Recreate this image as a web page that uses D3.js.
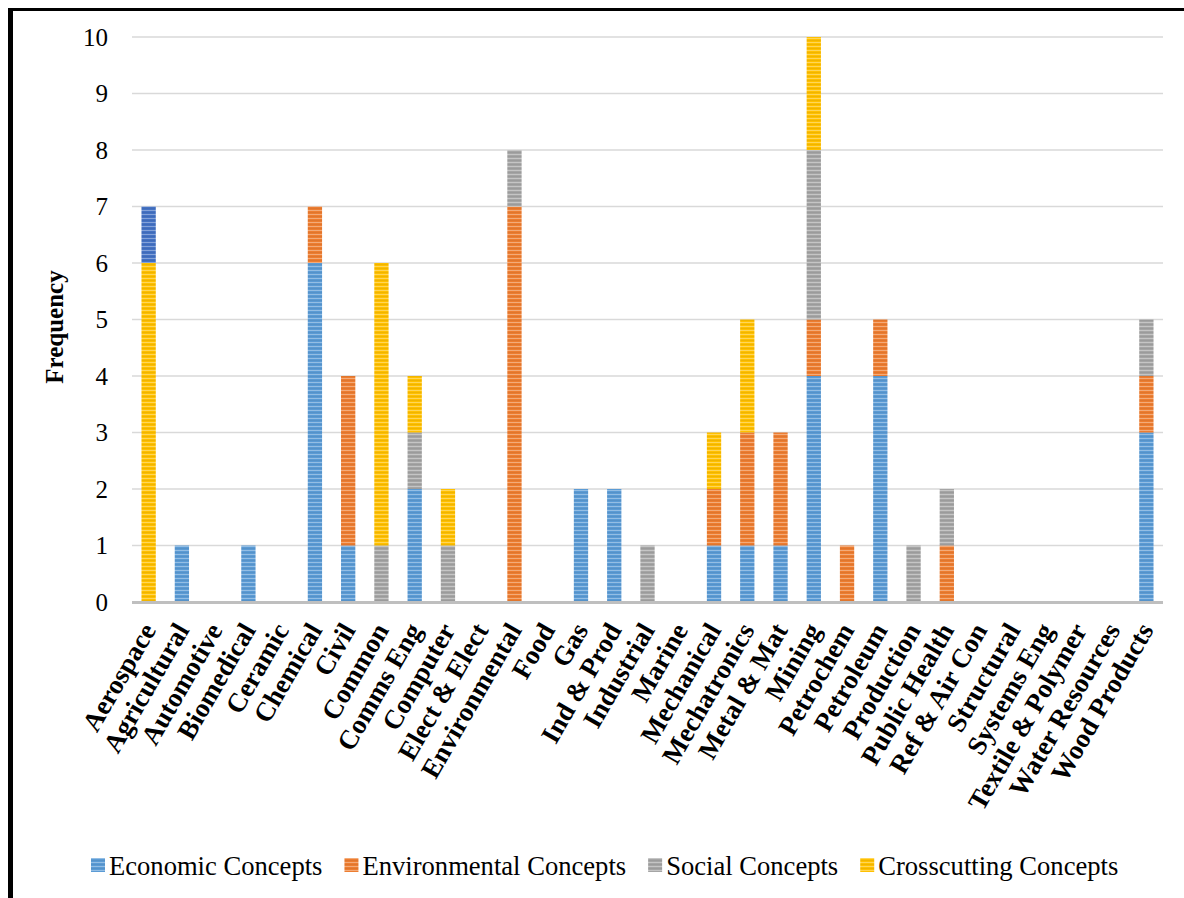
<!DOCTYPE html>
<html>
<head>
<meta charset="utf-8">
<script src="https://cdn.jsdelivr.net/npm/d3@7"></script>
<style>
  body { margin: 0; background: #fff; }
  svg { display: block; font-family: "Liberation Serif", "Times New Roman", serif; }
</style>
</head>
<body>
<div id="chart"></div>
<script>
// disciplines (axe x)
var categories = ["Aerospace", "Agricultural", "Automotive", "Biomedical", "Ceramic", "Chemical", "Civil",
  "Common", "Comms Eng", "Computer", "Elect & Elect", "Environmental", "Food", "Gas", "Ind & Prod",
  "Industrial", "Marine", "Mechanical", "Mechatronics", "Metal & Mat", "Mining", "Petrochem",
  "Petroleum", "Production", "Public Health", "Ref & Air Con", "Structural", "Systems Eng",
  "Textile & Polymer", "Water Resources", "Wood Products"];

// fréquences par série
var economic      = [0, 1, 0, 1, 0, 6, 1, 0, 2, 0, 0, 0, 0, 2, 2, 0, 0, 1, 1, 1, 4, 0, 4, 0, 0, 0, 0, 0, 0, 0, 3];
var environmental = [0, 0, 0, 0, 0, 1, 3, 0, 0, 0, 0, 7, 0, 0, 0, 0, 0, 1, 2, 2, 1, 1, 1, 0, 1, 0, 0, 0, 0, 0, 1];
var social        = [0, 0, 0, 0, 0, 0, 0, 1, 1, 1, 0, 1, 0, 0, 0, 1, 0, 0, 0, 0, 3, 0, 0, 1, 1, 0, 0, 0, 0, 0, 1];
var crosscutting  = [6, 0, 0, 0, 0, 0, 0, 5, 1, 1, 0, 0, 0, 0, 0, 0, 0, 1, 2, 0, 2, 0, 0, 0, 0, 0, 0, 0, 0, 0, 0];
// segment bleu foncé en haut de Aerospace (hors légende)
var other         = [1, 0, 0, 0, 0, 0, 0, 0, 0, 0, 0, 0, 0, 0, 0, 0, 0, 0, 0, 0, 0, 0, 0, 0, 0, 0, 0, 0, 0, 0, 0];

var seriesNames = ["Economic Concepts", "Environmental Concepts", "Social Concepts", "Crosscutting Concepts", "Other"];
var seriesColors = ["#5B9BD5", "#ED7D31", "#A5A5A5", "#FFC000", "#4472C4"];
var yTicks = [0, 1, 2, 3, 4, 5, 6, 7, 8, 9, 10];

var width = 1184, height = 898;
var plot = {left: 132, right: 1163, top: 37, bottom: 602};

var data = categories.map((c, i) => ({
  name: c,
  "Economic Concepts": economic[i],
  "Environmental Concepts": environmental[i],
  "Social Concepts": social[i],
  "Crosscutting Concepts": crosscutting[i],
  "Other": other[i]
}));

var svg = d3.select("#chart").append("svg")
  .attr("width", width)
  .attr("height", height);

// motifs rayés (comme dans Excel)
var defs = svg.append("defs");
seriesColors.forEach((col, i) => {
  var p = defs.append("pattern")
    .attr("id", "pat" + i)
    .attr("patternUnits", "userSpaceOnUse")
    .attr("width", 8).attr("height", 4);
  p.append("rect").attr("width", 8).attr("height", 4).attr("fill", col);
  p.append("rect").attr("y", 2).attr("width", 8).attr("height", 1)
    .attr("fill", d3.interpolateRgb(col, "#fff")(0.35));
  p.append("rect").attr("y", 0).attr("width", 8).attr("height", 1)
    .attr("fill", d3.interpolateRgb(col, "#000")(0.06));
});

// cadre
svg.append("rect").attr("x", 8).attr("y", 8).attr("width", 5).attr("height", height - 8).attr("fill", "#000");
svg.append("rect").attr("x", 8).attr("y", 8).attr("width", width - 8).attr("height", 3).attr("fill", "#000");

var x = d3.scaleBand()
  .domain(categories)
  .range([plot.left, plot.right])
  .paddingInner(0.57)
  .paddingOuter(0.285);

var y = d3.scaleLinear()
  .domain([0, 10])
  .range([plot.bottom, plot.top]);

// grille
svg.append("g")
  .selectAll("line")
  .data(yTicks.filter(t => t > 0))
  .join("line")
    .attr("x1", plot.left).attr("x2", plot.right)
    .attr("y1", d => y(d)).attr("y2", d => y(d))
    .attr("stroke", "#D9D9D9")
    .attr("stroke-width", 1.5);

// étiquettes axe y
svg.append("g")
    .attr("font-size", 25)
    .attr("text-anchor", "end")
  .selectAll("text")
  .data(yTicks)
  .join("text")
    .attr("x", 108)
    .attr("y", d => y(d))
    .attr("dy", "0.35em")
    .text(d => d);

// barres empilées
var stack = d3.stack().keys(seriesNames);
var layers = stack(data);

svg.append("g")
  .selectAll("g")
  .data(layers)
  .join("g")
    .attr("fill", (d, i) => "url(#pat" + i + ")")
  .selectAll("rect")
  .data(d => d.filter(s => s[1] > s[0]))
  .join("rect")
    .attr("x", d => x(d.data.name))
    .attr("width", x.bandwidth())
    .attr("y", d => y(d[1]))
    .attr("height", d => y(d[0]) - y(d[1]));

// ligne zéro
svg.append("line")
  .attr("x1", plot.left).attr("x2", plot.right)
  .attr("y1", y(0) + 0.5).attr("y2", y(0) + 0.5)
  .attr("stroke", "#BFBFBF")
  .attr("stroke-width", 3);

// étiquettes axe x (inclinées)
svg.append("g")
    .attr("font-size", 27)
    .attr("font-weight", "bold")
    .attr("text-anchor", "end")
  .selectAll("text")
  .data(categories)
  .join("text")
    .attr("transform", d => `translate(${x(d) + x.bandwidth() / 2 + 8},630) rotate(-60)`)
    .text(d => d);

// titre axe y
svg.append("text")
  .attr("transform", "translate(63,327) rotate(-90)")
  .attr("text-anchor", "middle")
  .attr("font-size", 25)
  .attr("font-weight", "bold")
  .text("Frequency");

// légende
var legend = svg.append("g").attr("font-size", 26.6);
var lx = 91;
seriesNames.slice(0, 4).forEach((s, i) => {
  legend.append("rect")
    .attr("x", lx).attr("y", 858)
    .attr("width", 14).attr("height", 14)
    .attr("fill", "url(#pat" + i + ")");
  var t = legend.append("text")
    .attr("x", lx + 18).attr("y", 866)
    .attr("dy", "0.35em")
    .text(s);
  lx += 18 + t.node().getComputedTextLength() + 22;
});
</script>
</body>
</html>
